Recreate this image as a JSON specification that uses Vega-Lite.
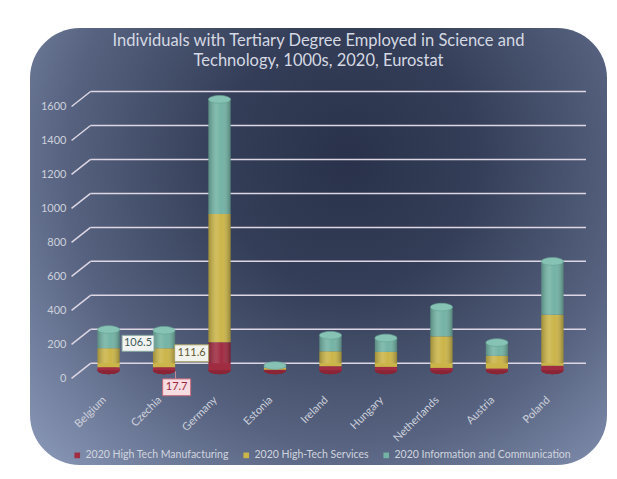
{
  "$schema": "https://vega.github.io/schema/vega-lite/v6.json",
  "width": 577,
  "height": 437,
  "autosize": {"type": "none"},
  "padding": {"left": 30, "top": 28, "right": 10, "bottom": 14},
  "background": "white",
  "title": {
    "text": ["Individuals with Tertiary Degree Employed in Science and", "Technology, 1000s, 2020, Eurostat"],
    "font": "Lato",
    "fontSize": 16.5,
    "fontWeight": "normal",
    "color": "#d5d9e3",
    "lineHeight": 20.6,
    "anchor": "middle",
    "frame": "group",
    "offset": -42
  },
  "datasets": {
    "emp": [
      {"country": "Belgium", "series": "2020 High Tech Manufacturing", "value": 18},
      {"country": "Belgium", "series": "2020 High-Tech Services", "value": 112},
      {"country": "Belgium", "series": "2020 Information and Communication", "value": 110},
      {"country": "Czechia", "series": "2020 High Tech Manufacturing", "value": 17.7},
      {"country": "Czechia", "series": "2020 High-Tech Services", "value": 111.6},
      {"country": "Czechia", "series": "2020 Information and Communication", "value": 106.5},
      {"country": "Germany", "series": "2020 High Tech Manufacturing", "value": 165},
      {"country": "Germany", "series": "2020 High-Tech Services", "value": 755},
      {"country": "Germany", "series": "2020 Information and Communication", "value": 675},
      {"country": "Estonia", "series": "2020 High Tech Manufacturing", "value": 3},
      {"country": "Estonia", "series": "2020 High-Tech Services", "value": 10},
      {"country": "Estonia", "series": "2020 Information and Communication", "value": 15},
      {"country": "Ireland", "series": "2020 High Tech Manufacturing", "value": 24},
      {"country": "Ireland", "series": "2020 High-Tech Services", "value": 88},
      {"country": "Ireland", "series": "2020 Information and Communication", "value": 94},
      {"country": "Hungary", "series": "2020 High Tech Manufacturing", "value": 20},
      {"country": "Hungary", "series": "2020 High-Tech Services", "value": 88},
      {"country": "Hungary", "series": "2020 Information and Communication", "value": 82},
      {"country": "Netherlands", "series": "2020 High Tech Manufacturing", "value": 14},
      {"country": "Netherlands", "series": "2020 High-Tech Services", "value": 186},
      {"country": "Netherlands", "series": "2020 Information and Communication", "value": 172},
      {"country": "Austria", "series": "2020 High Tech Manufacturing", "value": 10},
      {"country": "Austria", "series": "2020 High-Tech Services", "value": 75},
      {"country": "Austria", "series": "2020 Information and Communication", "value": 78},
      {"country": "Poland", "series": "2020 High Tech Manufacturing", "value": 27},
      {"country": "Poland", "series": "2020 High-Tech Services", "value": 300},
      {"country": "Poland", "series": "2020 Information and Communication", "value": 314}
    ],
    "grid": [
      {"tick": 0}, {"tick": 200}, {"tick": 400}, {"tick": 600}, {"tick": 800},
      {"tick": 1000}, {"tick": 1200}, {"tick": 1400}, {"tick": 1600}
    ]
  },
  "data": {"name": "emp"},
  "layer": [
    {
      "data": {"values": [{}]},
      "mark": {
        "type": "rect",
        "cornerRadius": 50,
        "fill": {
          "gradient": "radial",
          "x1": 0.55, "y1": 0.35, "r1": 0,
          "x2": 0.55, "y2": 0.35, "r2": 0.75,
          "stops": [
            {"offset": 0, "color": "#29324a"},
            {"offset": 0.3, "color": "#343e58"},
            {"offset": 0.65, "color": "#56627f"},
            {"offset": 1, "color": "#8a98b8"}
          ]
        }
      },
      "encoding": {}
    },
    {
      "data": {"name": "grid"},
      "mark": {"type": "rule", "color": "#ddd6e4", "strokeWidth": 1.5, "xOffset": -18, "x2Offset": -21},
      "encoding": {
        "x": {"datum": "Belgium", "type": "nominal"},
        "x2": {"value": "width"},
        "y": {"field": "tick", "type": "quantitative"}
      }
    },
    {
      "data": {"name": "grid"},
      "mark": {"type": "rule", "color": "#ddd6e4", "strokeWidth": 1.5, "xOffset": -37, "x2Offset": -18, "yOffset": 15, "y2Offset": 0},
      "encoding": {
        "x": {"datum": "Belgium", "type": "nominal"},
        "x2": {"datum": "Belgium"},
        "y": {"field": "tick", "type": "quantitative"},
        "y2": {"field": "tick"}
      }
    },
    {
      "mark": {"type": "point", "shape": "M -1 0 A 1 0.35 0 1 1 1 0 A 1 0.35 0 1 1 -1 0 Z", "size": 484, "filled": true, "color": "#8a2536", "opacity": 1, "yOffset": 7},
      "encoding": {
        "x": {"field": "country", "type": "nominal", "sort": null},
        "y": {"datum": 0, "type": "quantitative"}
      }
    },
    {
      "mark": {"type": "bar", "yOffset": 7, "y2Offset": 7},
      "encoding": {
        "x": {
          "field": "country",
          "type": "nominal",
          "sort": null,
          "scale": {"paddingInner": 0.6, "paddingOuter": 1.1, "align": 0.608},
          "axis": {
            "title": null,
            "orient": "bottom",
            "zindex": 2,
            "offset": -67,
            "labelAngle": -45,
            "labelAlign": "right",
            "labelBaseline": "middle",
            "labelOffset": -4,
            "labelPadding": 0,
            "ticks": false,
            "tickSize": 0,
            "domain": false,
            "grid": false,
            "labelFont": "Lato",
            "labelFontSize": 11,
            "labelColor": "#cdd1dc"
          }
        },
        "y": {
          "field": "value",
          "type": "quantitative",
          "stack": "zero",
          "scale": {"domain": [-598.7, 1973.8], "nice": false, "zero": false},
          "axis": {
            "title": null,
            "orient": "left",
            "zindex": 2,
            "format": "d",
            "values": [0, 200, 400, 600, 800, 1000, 1200, 1400, 1600],
            "offset": -36,
            "labelOffset": 15,
            "labelPadding": 0,
            "ticks": false,
            "tickSize": 0,
            "domain": false,
            "grid": false,
            "labelFont": "Lato",
            "labelFontSize": 11,
            "labelColor": "#cdd1dc"
          }
        },
        "color": {
          "field": "series",
          "type": "nominal",
          "scale": {
            "domain": ["2020 High Tech Manufacturing", "2020 High-Tech Services", "2020 Information and Communication"],
            "range": ["#a02c42", "#cbb549", "#73b3a5"]
          },
          "legend": {
            "title": null,
            "orient": "none",
            "direction": "horizontal",
            "legendX": 42,
            "legendY": 422,
            "symbolType": "square",
            "symbolSize": 32,
            "symbolStrokeWidth": 0,
            "labelFont": "Lato",
            "labelFontSize": 10.5,
            "labelLimit": 400,
            "labelColor": "#d0d4de",
            "labelOffset": 3,
            "columnPadding": 12
          }
        },
        "order": {"field": "series", "sort": "ascending"}
      }
    },
    {
      "mark": {
        "type": "bar",
        "yOffset": 7,
        "y2Offset": 7,
        "fill": {
          "gradient": "linear",
          "x1": 0, "y1": 0, "x2": 1, "y2": 0,
          "stops": [
            {"offset": 0, "color": "rgba(0,0,0,0.22)"},
            {"offset": 0.35, "color": "rgba(255,255,255,0.12)"},
            {"offset": 0.6, "color": "rgba(255,255,255,0.0)"},
            {"offset": 1, "color": "rgba(0,0,0,0.28)"}
          ]
        }
      },
      "encoding": {
        "x": {"field": "country", "type": "nominal", "sort": null},
        "y": {"aggregate": "sum", "field": "value", "type": "quantitative"}
      }
    },
    {
      "mark": {"type": "point", "shape": "M -1 0 A 1 0.35 0 1 1 1 0 A 1 0.35 0 1 1 -1 0 Z", "size": 484, "filled": true, "color": "#86c3b5", "stroke": "#67a194", "strokeWidth": 0.6, "opacity": 1, "yOffset": 7},
      "encoding": {
        "x": {"field": "country", "type": "nominal", "sort": null},
        "y": {"aggregate": "sum", "field": "value", "type": "quantitative"}
      }
    },
    {
      "transform": [
        {"stack": "value", "groupby": ["country"], "sort": [{"field": "series", "order": "ascending"}], "as": ["v0", "v1"]},
        {"filter": "datum.country == 'Czechia'"}
      ],
      "encoding": {
        "x": {"field": "country", "type": "nominal", "sort": null},
        "y": {"field": "v0", "type": "quantitative"}
      },
      "layer": [
        {
          "transform": [{"filter": "datum.series == '2020 High Tech Manufacturing'"}],
          "mark": {"type": "rule", "color": "#c88a96", "strokeWidth": 1, "xOffset": 11.5, "yOffset": 8, "y2Offset": 16},
          "encoding": {"y2": {"field": "v0"}}
        },
        {
          "transform": [{"filter": "datum.series == '2020 Information and Communication'"}],
          "mark": {"type": "point", "shape": "M -1 -0.5 L 1 -0.5 L 1 0.5 L -1 0.5 Z", "size": 1024, "filled": true, "color": "#f1f4f3", "stroke": "#86a7a0", "strokeWidth": 1, "opacity": 1, "xOffset": -26, "yOffset": 2}
        },
        {
          "transform": [{"filter": "datum.series == '2020 Information and Communication'"}],
          "mark": {"type": "text", "font": "Lato", "fontSize": 11, "color": "#3e5b58", "xOffset": -26, "yOffset": 2, "baseline": "middle"},
          "encoding": {"text": {"field": "value", "type": "quantitative", "format": ".1f"}}
        },
        {
          "transform": [{"filter": "datum.series == '2020 High-Tech Services'"}],
          "mark": {"type": "point", "shape": "M -1 -0.5 L 1 -0.5 L 1 0.5 L -1 0.5 Z", "size": 1156, "filled": true, "color": "#f3f3ee", "stroke": "#a59e64", "strokeWidth": 1, "opacity": 1, "xOffset": 27.6, "yOffset": -7}
        },
        {
          "transform": [{"filter": "datum.series == '2020 High-Tech Services'"}],
          "mark": {"type": "text", "font": "Lato", "fontSize": 11, "color": "#5e5a32", "xOffset": 27.6, "yOffset": -7, "baseline": "middle"},
          "encoding": {"text": {"field": "value", "type": "quantitative", "format": ".1f"}}
        },
        {
          "transform": [{"filter": "datum.series == '2020 High Tech Manufacturing'"}],
          "mark": {"type": "point", "shape": "M -1 -0.6 L 1 -0.6 L 1 0.6 L -1 0.6 Z", "size": 784, "filled": true, "color": "#f7dce1", "stroke": "#c46a7c", "strokeWidth": 1, "opacity": 1, "xOffset": 12.6, "yOffset": 24}
        },
        {
          "transform": [{"filter": "datum.series == '2020 High Tech Manufacturing'"}],
          "mark": {"type": "text", "font": "Lato", "fontSize": 11, "color": "#9b2840", "xOffset": 12.6, "yOffset": 24, "baseline": "middle"},
          "encoding": {"text": {"field": "value", "type": "quantitative", "format": ".1f"}}
        }
      ]
    }
  ],
  "config": {
    "font": "Lato",
    "view": {"stroke": null}
  }
}
